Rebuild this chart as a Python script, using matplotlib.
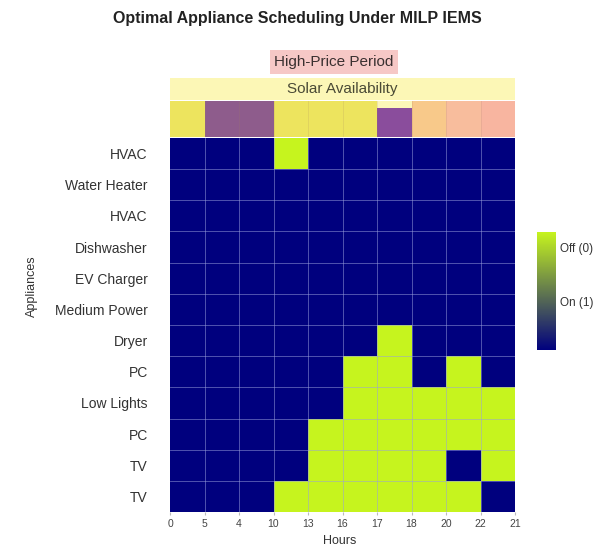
import matplotlib
matplotlib.use('Agg')
import matplotlib.pyplot as plt
import numpy as np
from matplotlib.colors import LinearSegmentedColormap
from matplotlib.cm import ScalarMappable
from matplotlib.colors import Normalize

plt.rcParams['font.family'] = ['Liberation Sans', 'DejaVu Sans']

# ---------------- data ----------------
appliances = ['HVAC', 'Water Heater', 'HVAC', 'Dishwasher', 'EV Charger',
              'Medium Power', 'Dryer', 'PC', 'Low Lights', 'PC', 'TV', 'TV']
hour_labels = ['0', '5', '4', '10', '13', '16', '17', '18', '20', '22', '21']
# 1 = On, 0 = Off  (rows = appliances, columns = hour slots)
status = [
    [1, 1, 1, 0, 1, 1, 1, 1, 1, 1],
    [1, 1, 1, 1, 1, 1, 1, 1, 1, 1],
    [1, 1, 1, 1, 1, 1, 1, 1, 1, 1],
    [1, 1, 1, 1, 1, 1, 1, 1, 1, 1],
    [1, 1, 1, 1, 1, 1, 1, 1, 1, 1],
    [1, 1, 1, 1, 1, 1, 1, 1, 1, 1],
    [1, 1, 1, 1, 1, 1, 0, 1, 1, 1],
    [1, 1, 1, 1, 1, 0, 0, 1, 0, 1],
    [1, 1, 1, 1, 1, 0, 0, 0, 0, 0],
    [1, 1, 1, 1, 0, 0, 0, 0, 0, 0],
    [1, 1, 1, 1, 0, 0, 0, 0, 1, 0],
    [1, 1, 1, 0, 0, 0, 0, 0, 0, 1],
]
# price / solar band shown above the schedule
hour_band = ['solar', 'low', 'low', 'solar', 'solar', 'solar',
             'low_dip', 'shoulder', 'peak', 'peak_hi']
band_fill = [1, 1, 1, 1, 1, 1, 0.8, 1, 1, 1]
colorbar_labels = ['Off (0)', 'On (1)']
colorbar_ticks = [0.13, 0.59]

band_colors = {'solar': '#ede45e', 'low': '#8e5c8c', 'low_dip': '#8a4d9c',
               'shoulder': '#f8c98a', 'peak': '#f8bd9d', 'peak_hi': '#f8b5a0'}

W, H = 606, 549
fig = plt.figure(figsize=(W / 100, H / 100), dpi=100)


def fax(x0, y0, x1, y1):
    return fig.add_axes([x0 / W, 1 - y1 / H, (x1 - x0) / W, (y1 - y0) / H])


cmap = LinearSegmentedColormap.from_list('sched', ['#c6f41e', '#00007e'])
data = np.array(status, dtype=float)
nrows, ncols = data.shape

# main heatmap
ax = fax(170, 138, 515, 512)
ax.pcolormesh(np.arange(ncols + 1), np.arange(nrows + 1), data, cmap=cmap,
              vmin=0, vmax=1, edgecolors='none')
for i in range(1, ncols):
    ax.axvline(i, color='#9aa0dc', alpha=0.6, lw=0.6)
for j in range(1, nrows):
    ax.axhline(j, color='#9aa0dc', alpha=0.6, lw=0.6)
ax.set_xlim(0, ncols)
ax.set_ylim(nrows, 0)
ax.set_xticks(np.arange(ncols + 1))
ax.set_xticklabels(hour_labels, fontsize=7.5, color='#444')
ax.set_yticks(np.arange(nrows) + 0.5)
ax.set_yticklabels(appliances, fontsize=10, color='#333')
ax.tick_params(axis='y', length=0, pad=16)
ax.tick_params(axis='x', length=2.5, color='#bbbbbb', pad=2.5)
for s in ax.spines.values():
    s.set_visible(False)

# price / solar strip
sax = fax(170, 101, 515, 137)
sax.set_facecolor('#fcf6b8')
sax.bar(np.arange(ncols), band_fill, width=1, align='edge',
        color=[band_colors[b] for b in hour_band], linewidth=0)
for i in range(1, ncols):
    sax.axvline(i, color='#a08060', alpha=0.2, lw=0.6)
sax.set_xlim(0, ncols)
sax.set_ylim(0, 1)
sax.set_xticks([])
sax.set_yticks([])
for s in sax.spines.values():
    s.set_visible(False)

# solar availability band
bax = fax(170, 78, 515, 100)
bax.set_facecolor('#fcf7b6')
bax.set_xticks([])
bax.set_yticks([])
for s in bax.spines.values():
    s.set_visible(False)
bax.text(0.5, 0.5, 'Solar Availability', transform=bax.transAxes,
         ha='center', va='center', fontsize=11, color='#4a4a36')

# high price label
fig.text(334 / W, 1 - 62 / H, 'High-Price Period', ha='center', va='center',
         fontsize=11, color='#3a3030',
         bbox=dict(boxstyle='square,pad=0.3', facecolor='#f6c8c6',
                   edgecolor='none'))

# title
fig.text(297 / W, 1 - 18 / H, 'Optimal Appliance Scheduling Under MILP IEMS',
         ha='center', va='center', fontsize=11.5, fontweight='bold',
         color='#222')

# axis labels
fig.text(340 / W, 1 - 541 / H, 'Hours', ha='center', va='center',
         fontsize=9, color='#333')
fig.text(32 / W, 1 - 286 / H, 'Appliances', ha='center', va='center',
         rotation=90, fontsize=9, color='#333')

# colorbar
cax = fax(537, 232, 556, 350)
sm = ScalarMappable(norm=Normalize(0, 1), cmap=cmap)
cb = fig.colorbar(sm, cax=cax)
cax.invert_yaxis()
cb.set_ticks(colorbar_ticks)
cb.set_ticklabels(colorbar_labels)
cax.tick_params(length=0, pad=3, labelsize=8.5, labelcolor='#333')
cb.outline.set_visible(False)

fig.savefig('out.png', dpi=100)
